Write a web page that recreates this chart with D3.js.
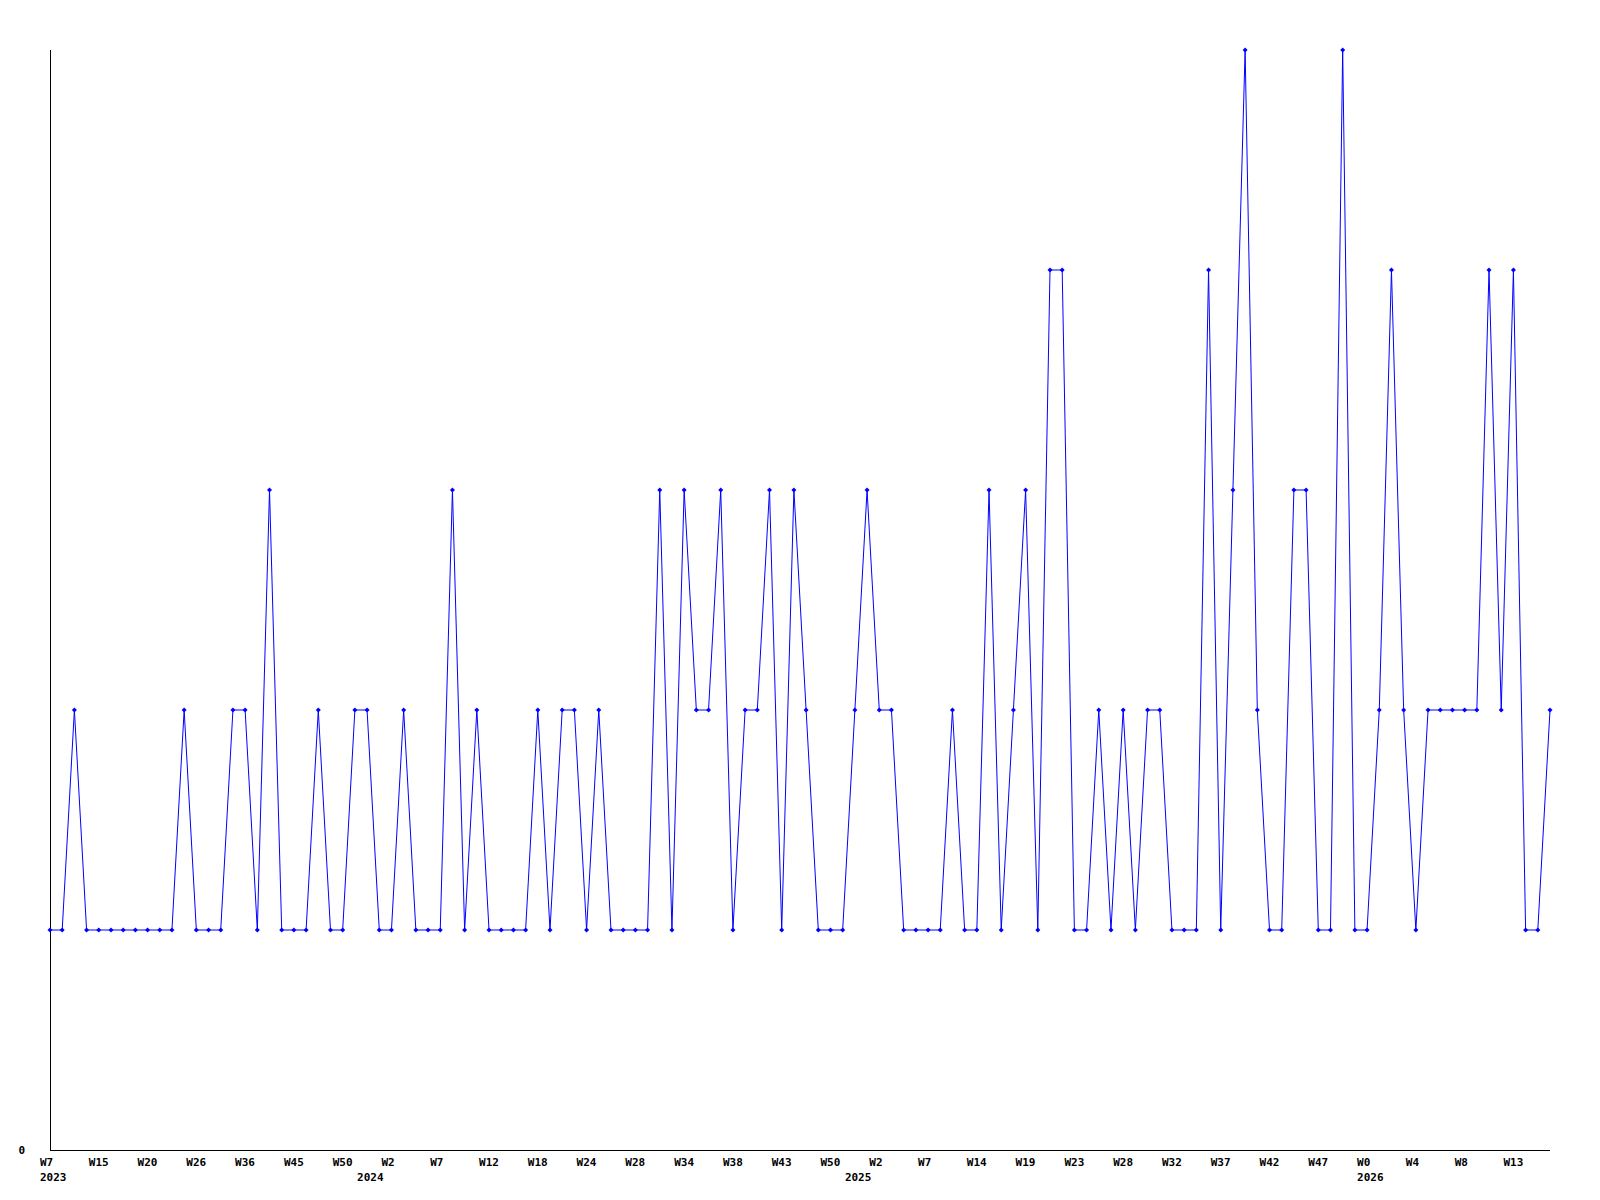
<!DOCTYPE html>
<html>
<head>
<meta charset="utf-8">
<script src="https://cdn.jsdelivr.net/npm/d3@7"></script>
<style>
  body { margin: 0; background: #fff; }
  svg { display: block; }
  .axis text { font-family: "DejaVu Sans Mono", monospace; font-weight: bold; font-size: 11px; fill: #000; }
</style>
</head>
<body>
<svg id="chart"></svg>
<script>
// values per sample (evenly spaced, one per point)
var values = [
  1,1,2,1,1,1,1,1,1,1,1,2,1,1,1,2,2,1,3,1,1,
  1,2,1,1,2,2,1,1,2,1,1,1,3,1,2,1,1,1,1,2,1,
  2,2,1,2,1,1,1,1,3,1,3,2,2,3,1,2,2,3,1,3,
  2,1,1,1,2,3,2,2,1,1,1,1,2,1,1,3,1,2,3,1,4,
  4,1,1,2,1,2,1,2,2,1,1,1,4,1,3,5,2,1,1,3,
  3,1,1,5,1,1,2,4,2,1,2,2,2,2,2,4,2,4,1,1,2
];

// week labels, one every 4th point
var weekLabels = ["W7","W15","W20","W26","W36","W45","W50","W2","W7","W12","W18",
  "W24","W28","W34","W38","W43","W50","W2","W7","W14","W19","W23","W28","W32",
  "W37","W42","W47","W0","W4","W8","W13"];
var weekIndex = weekLabels.map(function(d, i){ return i * 4; });

// year labels and the point they sit under
var yearLabels = ["2023","2024","2025","2026"];
var yearIndex = [0, 26, 66, 108];

var width = 1600, height = 1200;
var plotLeft = 50, plotRight = 1550, plotTop = 50, plotBottom = 1150;

var svg = d3.select("#chart")
  .attr("width", width)
  .attr("height", height);

svg.append("rect").attr("width", width).attr("height", height).attr("fill", "#fff");

var x = d3.scaleLinear()
  .domain([0, values.length - 1])
  .range([plotLeft, plotRight]);

var y = d3.scaleLinear()
  .domain([0, 5])
  .range([plotBottom, plotTop]);

// x axis with week labels
var xAxis = svg.append("g")
  .attr("class", "axis")
  .attr("transform", "translate(0," + plotBottom + ")")
  .call(d3.axisBottom(x)
    .tickValues(weekIndex)
    .tickSize(0)
    .tickPadding(0)
    .tickFormat(function(d, i){ return weekLabels[i]; }));
xAxis.select(".domain").attr("stroke", "#000").attr("d", "M" + plotLeft + ",0.5H" + plotRight);
xAxis.selectAll("text")
  .attr("text-anchor", "start")
  .attr("dx", -10.5)
  .attr("dy", 0)
  .attr("y", 16);

// second row: years
var yearAxis = svg.append("g")
  .attr("class", "axis")
  .attr("transform", "translate(0," + plotBottom + ")")
  .call(d3.axisBottom(x)
    .tickValues(yearIndex)
    .tickSize(0)
    .tickFormat(function(d, i){ return yearLabels[i]; }));
yearAxis.select(".domain").remove();
yearAxis.selectAll("text")
  .attr("text-anchor", "start")
  .attr("dx", -10.5)
  .attr("dy", 0)
  .attr("y", 31);

// y axis, only the zero label
var yAxis = svg.append("g")
  .attr("class", "axis")
  .attr("transform", "translate(" + plotLeft + ",0)")
  .call(d3.axisLeft(y)
    .tickValues([0])
    .tickSize(0)
    .tickPadding(25)
    .tickFormat(d3.format("d")));
yAxis.select(".domain").attr("stroke", "#000").attr("d", "M0.5," + plotTop + "V" + plotBottom);

// the line
var line = d3.line()
  .x(function(d, i){ return x(i); })
  .y(function(d){ return y(d); });

svg.append("path")
  .datum(values)
  .attr("fill", "none")
  .attr("stroke", "#0000ff")
  .attr("stroke-width", 1)
  .attr("d", line);

// point markers
svg.append("g")
  .selectAll("path")
  .data(values)
  .enter()
  .append("path")
    .attr("transform", function(d, i){ return "translate(" + x(i) + "," + y(d) + ")"; })
    .attr("d", "M-2.5,0L0,-2.5L2.5,0L0,2.5Z")
    .attr("fill", "#0000ff");
</script>
</body>
</html>
